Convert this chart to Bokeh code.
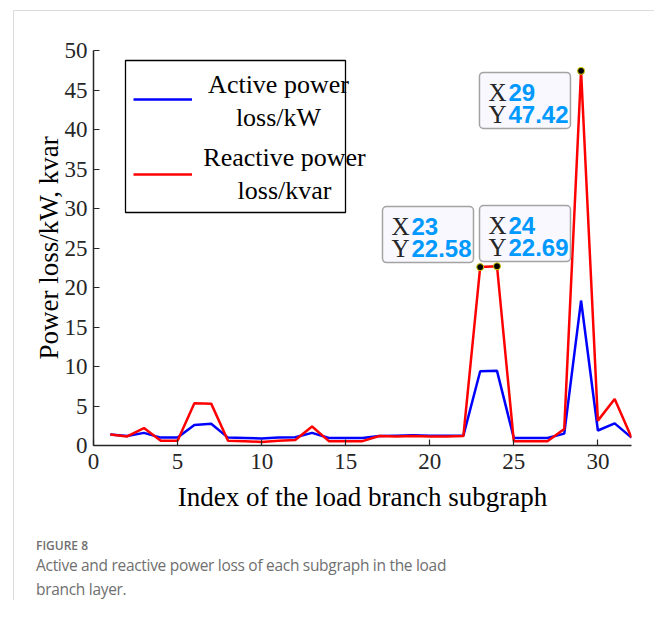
from bokeh.plotting import figure
from bokeh.models import (Legend, LegendItem, BoxAnnotation, Label, Div, ColumnDataSource,
                          FixedTicker)
from bokeh.layouts import column
from bokeh.embed import file_html
from bokeh.resources import INLINE

# ---------------- data ----------------
subgraph_index = list(range(1, 33))
active_loss_kw = [1.4, 1.2, 1.6, 1.0, 1.0, 2.6, 2.75, 1.0, 0.95, 0.9, 1.0, 1.05, 1.6, 0.95,
                  0.95, 0.95, 1.2, 1.25, 1.3, 1.25, 1.25, 1.25, 9.4, 9.45, 0.95, 0.95, 0.95,
                  1.5, 18.35, 1.9, 2.8, 1.0]
reactive_loss_kvar = [1.4, 1.15, 2.2, 0.6, 0.6, 5.35, 5.3, 0.6, 0.55, 0.45, 0.6, 0.7, 2.4,
                      0.55, 0.55, 0.55, 1.2, 1.15, 1.2, 1.15, 1.15, 1.2, 22.58, 22.69, 0.55,
                      0.55, 0.55, 2.1, 47.42, 3.15, 5.9, 1.0]
datatip_index = [23, 24, 29]
series_names = [("Active power", "loss/kW"), ("Reactive power", "loss/kvar")]
x_ticks = [0, 5, 10, 15, 20, 25, 30]
y_ticks = [0, 5, 10, 15, 20, 25, 30, 35, 40, 45, 50]

SERIF = "Liberation Serif"
DARK = "#262626"

# frame geometry (page pixels) used only to place decorations
FR_L, FR_R, FR_T, FR_B = 93, 631, 50, 445
PX_X = (FR_R - FR_L) / 32.0
PX_Y = (FR_B - FR_T) / 50.0


def px2x(px):
    return (px - FR_L) / PX_X


def px2y(py):
    return (FR_B - py) / PX_Y


BASE_FIX = 8  # text baseline correction (px)

p = figure(width=632, height=504, x_range=(0, 32), y_range=(0, 50),
           output_backend="svg", toolbar_location=None,
           min_border_left=79, min_border_right=15, min_border_top=39, min_border_bottom=70)
p.outline_line_color = None
p.grid.visible = False
p.background_fill_color = "white"
p.border_fill_color = "white"

for ax, ticks in ((p.xaxis[0], x_ticks), (p.yaxis[0], y_ticks)):
    ax.ticker = FixedTicker(ticks=ticks)
    ax.minor_tick_line_color = None
    ax.major_tick_in = 6
    ax.major_tick_out = 0
    ax.axis_line_color = DARK
    ax.axis_line_width = 1.5
    ax.major_tick_line_color = DARK
    ax.major_tick_line_width = 1.2
    ax.major_label_text_font = SERIF
    ax.major_label_text_font_size = "23px"
    ax.major_label_text_color = DARK
    ax.axis_label_text_font = SERIF
    ax.axis_label_text_font_size = "27px"
    ax.axis_label_text_font_style = "normal"
    ax.axis_label_text_color = "black"

p.xaxis.axis_label = "Index of the load branch subgraph"
p.yaxis.axis_label = "Power loss/kW, kvar"
p.xaxis.major_label_standoff = 8
p.yaxis.major_label_standoff = 6
p.xaxis.axis_label_standoff = 10
p.yaxis.axis_label_standoff = -2

src = ColumnDataSource(dict(x=subgraph_index, a=active_loss_kw, r=reactive_loss_kvar))
la = p.line("x", "a", source=src, line_color="#0000ff", line_width=2.5)
lr = p.line("x", "r", source=src, line_color="#ff0000", line_width=2.5)

# ---------------- legend ----------------
p.add_layout(BoxAnnotation(left=px2x(125), right=px2x(345), top=px2y(60), bottom=px2y(212),
                           fill_color="white", fill_alpha=1.0, line_color="black",
                           line_alpha=1.0, line_width=1.3, level="annotation"))
legend = Legend(items=[LegendItem(label=" ", renderers=[la]),
                       LegendItem(label=" ", renderers=[lr])],
                location=(133 - FR_L, FR_B - 194))
legend.padding = 0
legend.margin = 0
legend.spacing = 35
legend.glyph_width = 59
legend.glyph_height = 40
legend.label_standoff = 0
legend.label_text_font_size = "10px"
legend.border_line_color = None
legend.background_fill_alpha = 0
p.add_layout(legend)

leg_text = [((series_names[0][0], 278, 92.3), (series_names[0][1], 278, 125)),
            ((series_names[1][0], 284, 165), (series_names[1][1], 284, 197.7))]
for pair in leg_text:
    for txt, cx, by in pair:
        p.add_layout(Label(x=px2x(cx), y=px2y(by - BASE_FIX), text=txt, text_align="center",
                           text_baseline="alphabetic", text_font=SERIF,
                           text_font_size="26px", text_color="black"))

# ---------------- data tips ----------------
tip_x = [subgraph_index[i - 1] for i in datatip_index]
tip_y = [reactive_loss_kvar[i - 1] for i in datatip_index]
# (box left offset, box top offset below point) in pixels
tip_offsets = {23: (-97.7, -60.6), 24: (-17.5, -60.7), 29: (-101.6, 1.6)}
BOX_W, BOX_H = 91, 56
for xi, yi in zip(tip_x, tip_y):
    dx, dy = tip_offsets[xi]
    p.add_layout(BoxAnnotation(left=xi + dx / PX_X, right=xi + (dx + BOX_W) / PX_X,
                               top=yi - dy / PX_Y, bottom=yi - (dy + BOX_H) / PX_Y,
                               fill_color="#f8f8fe", fill_alpha=1.0,
                               line_color="#a3a3a3", line_alpha=1.0, line_width=1.5,
                               border_radius=4, level="overlay"))
    for letter, val, base in (("X", f"{xi:d}", 28), ("Y", f"{yi:.2f}", 50)):
        off = -(dy + base - BASE_FIX)
        p.add_layout(Label(x=xi, y=yi, x_offset=dx + 9, y_offset=off, text=letter,
                           text_font=SERIF, text_font_size="25px", text_color=DARK,
                           text_baseline="alphabetic", level="overlay"))
        p.add_layout(Label(x=xi, y=yi, x_offset=dx + 29, y_offset=off, text=val,
                           text_font="Liberation Sans", text_font_style="bold",
                           text_font_size="24px", text_color="#0099ff",
                           text_baseline="alphabetic", level="overlay"))

p.scatter(tip_x, tip_y, size=7, fill_color="black", line_color="#d8d000", line_width=1)

caption = Div(text=(
    '<div style="font-family:\'Open Sans\',sans-serif;color:#6f6f6f;">'
    '<div style="font-size:12px;font-weight:600;line-height:14px;">FIGURE 8</div>'
    '<div style="font-size:15.5px;line-height:24px;letter-spacing:-0.3px;">'
    'Active and reactive power loss of each subgraph in the load<br>branch layer.</div></div>'),
    width=640, height=85, margin=0,
    styles={"padding-left": "22px", "padding-top": "24px"})

layout = column(p, caption, margin=(10, 0, 0, 13),
                styles={"border-left": "1px solid #dcdcdc", "border-top": "1px solid #dcdcdc"})

open("out.html", "w").write(file_html(layout, INLINE))
